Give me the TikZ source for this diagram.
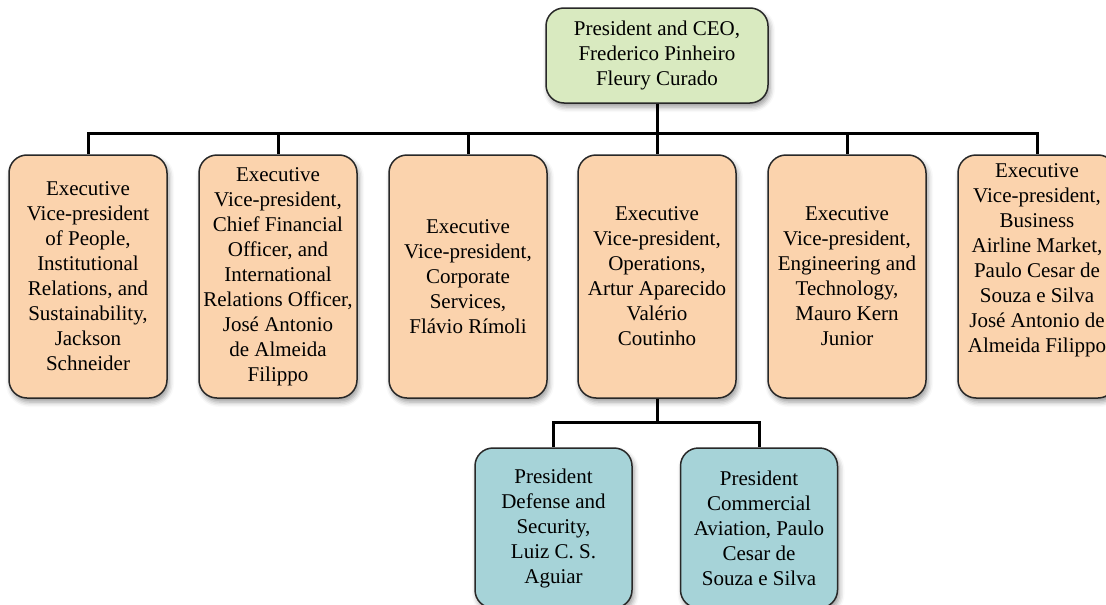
\documentclass[tikz,border=0pt]{standalone}
\usepackage{fontspec}
\setmainfont{Liberation Serif}
\usetikzlibrary{shadows.blur}

\definecolor{ceogreen}{RGB}{217,234,192}
\definecolor{vporange}{RGB}{251,211,173}
\definecolor{presteal}{RGB}{166,211,216}
\definecolor{boxline}{RGB}{40,40,40}

\tikzset{
  orgbox/.style={draw=boxline, line width=1.5pt, rounded corners=18pt,
    align=center, inner sep=2pt, font=\fontsize{21}{25}\selectfont,
    blur shadow={shadow xshift=2pt, shadow yshift=-4pt,
      shadow opacity=40, shadow blur radius=5pt}},
  ceobox/.style={orgbox, fill=ceogreen, minimum width=222pt, minimum height=95pt},
  vpbox/.style={orgbox, fill=vporange, minimum width=158pt, minimum height=243pt},
  presbox/.style={orgbox, fill=presteal, minimum width=157pt, minimum height=160pt},
  link/.style={line width=3pt, black}
}

\begin{document}
\begin{tikzpicture}[x=1pt, y=1pt]
    \clip (0,0) rectangle (1106,-605);
    \useasboundingbox (0,0) rectangle (1106,-605);
    % Top of the chart
    \node[ceobox] (ceo) at (657,-55.5) {President and CEO,\\ Frederico Pinheiro\\ Fleury Curado};
    % Executive vice-presidents
    \node[vpbox] (vp1) at (88,-276.5) {Executive\\ Vice-president\\ of People,\\ Institutional\\ Relations, and\\ Sustainability,\\ Jackson\\ Schneider};
    \node[vpbox] (vp2) at (278,-276.5) {Executive\\ Vice-president,\\ Chief Financial\\ Officer, and\\ International\\ Relations Officer,\\ José Antonio\\ de Almeida\\ Filippo};
    \node[vpbox] (vp3) at (468,-276.5) {Executive\\ Vice-president,\\ Corporate\\ Services,\\ Flávio Rímoli};
    \node[vpbox] (vp4) at (657,-276.5) {Executive\\ Vice-president,\\ Operations,\\ Artur Aparecido\\ Valério\\ Coutinho};
    \node[vpbox] (vp5) at (847,-276.5) {Executive\\ Vice-president,\\ Engineering and\\ Technology,\\ Mauro Kern\\ Junior};
    \node[vpbox] (vp6) at (1037,-276.5) {Executive\\ Vice-president,\\ Business\\ Airline Market,\\ Paulo Cesar de\\ Souza e Silva\\ José Antonio de\\ Almeida Filippo\\[12pt]};
    % Presidents under operations
    \node[presbox] (pres1) at (553.5,-528) {President\\ Defense and\\ Security,\\ Luiz C. S.\\ Aguiar};
    \node[presbox] (pres2) at (759,-528) {President\\ Commercial\\ Aviation, Paulo\\ Cesar de\\ Souza e Silva};
    % Connectors
    \coordinate (ceobus) at (657,-133);
    \draw[link] (ceo.south) -- (ceobus);
    \foreach \n in {vp1,vp2,vp3,vp4,vp5,vp6} {
        \draw[link] (ceobus) -| (\n.north);
    }
    \coordinate (opsbus) at (657,-422);
    \draw[link] (vp4.south) -- (opsbus);
    \foreach \n in {pres1,pres2} {
        \draw[link] (opsbus) -| (\n.north);
    }
\end{tikzpicture}
\end{document}
